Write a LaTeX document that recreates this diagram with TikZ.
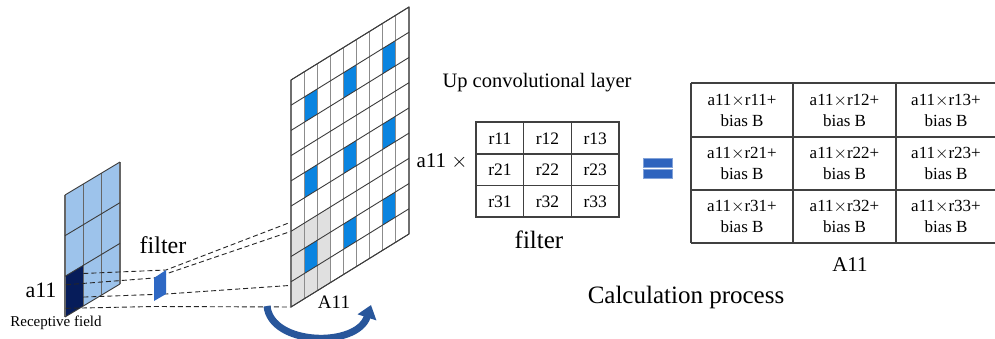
\documentclass[tikz,border=0pt]{standalone}
\usepackage{fontspec}
\setmainfont{Liberation Serif}
\usetikzlibrary{arrows.meta}
\definecolor{lightcell}{RGB}{157,195,235}
\definecolor{darkcell}{RGB}{6,28,90}
\definecolor{filterblue}{RGB}{46,104,196}
\definecolor{upblue}{RGB}{10,132,224}
\definecolor{grayfill}{RGB}{224,224,224}
\definecolor{arcblue}{RGB}{40,86,155}
\definecolor{eqblue}{RGB}{47,100,190}
\definecolor{gridline}{RGB}{60,60,60}
\definecolor{vgrid}{RGB}{140,140,140}
\begin{document}
\begin{tikzpicture}[x=1pt,y=-1pt,
  hline/.style={draw=gridline,line width=0.9pt},
  vline/.style={draw=vgrid,line width=1.2pt},
  dashline/.style={draw=black!85,line width=0.9pt,dash pattern=on 5pt off 3pt},
  tabline/.style={draw=black!75,line width=1.4pt},
  label/.style={inner sep=0pt,anchor=base,text=black},
  cell/.style={inner sep=0pt,align=center,font=\fontsize{17}{21}\selectfont},
  rcell/.style={inner sep=0pt,font=\fontsize{17.5}{20}\selectfont}]
\useasboundingbox (0,0) rectangle (995,338);
\fill[white] (0,0) rectangle (995,338);

% ---------- left small grid (receptive field)
\begin{scope}[shift={(65,195)},x={(18.33pt,11pt)},y={(0pt,-40.67pt)}]
  \fill[lightcell] (0,0)--(3,0)--(3,3)--(0,3)--cycle;
  \fill[darkcell] (0,2)--(1,2)--(1,3)--(0,3)--cycle;
  \foreach \i in {0,...,3} \draw[vline,draw=black!60] (\i,0)--(\i,3);
  \foreach \j in {0,...,3} \draw[hline] (0,\j)--(3,\j);
  \coordinate (r1) at (1,2.2);
  \coordinate (r2) at (0.05,2.22);
  \coordinate (r3) at (1,2.78);
  \coordinate (r4) at (0.05,2.8);
\end{scope}

% ---------- filter corners
\coordinate (fTL) at (154,278);
\coordinate (fTR) at (166,270);
\coordinate (fBR) at (166,294);
\coordinate (fBL) at (154,301);
\coordinate (fBLd) at (154,306.5);

% ---------- big grid corner coordinates
\begin{scope}[shift={(291,80)},x={(13.11pt,8.11pt)},y={(0pt,-25.22pt)}]
  \coordinate (gTL) at (0,6);
  \coordinate (gTR) at (3,6);
  \coordinate (gBL) at (0,9);
  \coordinate (gBR) at (3,9);
\end{scope}

% ---------- dashed projection lines
\draw[dashline] (r1) -- (fTR) -- (gTR);
\draw[dashline] (r2) -- (fTL) -- (gTL);
\draw[dashline] (r3) -- (fBR) -- (gBR);
\draw[dashline] (r4) -- (fBLd) -- (gBL);

% ---------- filter patch
\fill[filterblue] (fTL)--(fTR)--(fBR)--(fBL)--cycle;

% ---------- big output grid
\begin{scope}[shift={(291,80)},x={(13.11pt,8.11pt)},y={(0pt,-25.22pt)}]
  \fill[white] (0,0)--(9,0)--(9,9)--(0,9)--cycle;
  \fill[grayfill] (0,6)--(3,6)--(3,9)--(0,9)--cycle;
  \foreach \i in {1,4,7}
    \foreach \j in {1,4,7}
      \fill[upblue] (\i,\j)--(\i+1,\j)--(\i+1,\j+1)--(\i,\j+1)--cycle;
  \foreach \i in {0,...,9} \draw[vline] (\i,0)--(\i,9);
  \foreach \j in {0,...,9} \draw[hline] (0,\j)--(9,\j);
  \draw[hline] (0,0)--(9,0)--(9,9)--(0,9)--cycle;
\end{scope}

% ---------- curved arrow
\coordinate (arcS) at (267,306);
\coordinate (arcE) at (371,305);
\draw[arcblue,line width=7pt,-{Triangle[length=13pt,width=19pt]}]
  (arcS) .. controls (271,346) and (357,348) .. (arcE);

% ---------- labels on the left
\node[label,font=\fontsize{22}{24}\selectfont] (la11) at (41,297) {a11};
\node[label,font=\fontsize{15}{17}\selectfont] (lrf) at (56,326) {Receptive field};
\node[label,font=\fontsize{24}{26}\selectfont] (lfilter) at (163,253) {filter};
\node[label,font=\fontsize{19}{21}\selectfont] (gA11) at (334,308) {A11};

% ---------- middle: filter table
\node[label,font=\fontsize{20.5}{22}\selectfont] (upconv) at (537,87) {Up convolutional layer};
\node[label,font=\fontsize{21}{23}\selectfont] (ax) at (442,167) {a11 $\times$};
\draw[tabline,line width=1.3pt] (476,122) rectangle (619,217);
\draw[tabline,line width=1.3pt] (476,154) -- (619,154);
\draw[tabline,line width=1.3pt] (476,185.5) -- (619,185.5);
\draw[tabline,line width=1.3pt] (523.5,122) -- (523.5,217);
\draw[tabline,line width=1.3pt] (571.5,122) -- (571.5,217);
\node[rcell] (r11) at (500,138.5) {r11};
\node[rcell] (r12) at (547.5,138.5) {r12};
\node[rcell] (r13) at (595.3,138.5) {r13};
\node[rcell] (r21) at (500,170) {r21};
\node[rcell] (r22) at (547.5,170) {r22};
\node[rcell] (r23) at (595.3,170) {r23};
\node[rcell] (r31) at (500,201.5) {r31};
\node[rcell] (r32) at (547.5,201.5) {r32};
\node[rcell] (r33) at (595.3,201.5) {r33};
\node[label,font=\fontsize{25}{27}\selectfont] (mfilter) at (539,248) {filter};

% ---------- equals sign
\fill[eqblue,draw=eqblue!60,line width=0.6pt] (643,158) rectangle (672,167);
\fill[eqblue,draw=eqblue!60,line width=0.6pt] (643,169.5) rectangle (672,178.5);

% ---------- right: result table
\foreach \y in {83,137,190,243} \draw[tabline] (691,\y) -- (996,\y);
\foreach \x in {691,793,896} \draw[tabline] (\x,83) -- (\x,243);
\node[cell] (c11) at (742,110) {a11$\times$r11+\\bias B};
\node[cell] (c12) at (844.5,110) {a11$\times$r12+\\bias B};
\node[cell] (c13) at (946,110) {a11$\times$r13+\\bias B};
\node[cell] (c21) at (742,163.5) {a11$\times$r21+\\bias B};
\node[cell] (c22) at (844.5,163.5) {a11$\times$r22+\\bias B};
\node[cell] (c23) at (946,163.5) {a11$\times$r23+\\bias B};
\node[cell] (c31) at (742,216.5) {a11$\times$r31+\\bias B};
\node[cell] (c32) at (844.5,216.5) {a11$\times$r32+\\bias B};
\node[cell] (c33) at (946,216.5) {a11$\times$r33+\\bias B};
\node[label,font=\fontsize{21}{23}\selectfont] (tA11) at (850,271) {A11};
\node[label,font=\fontsize{25}{27}\selectfont] (calc) at (686,303) {Calculation process};
\end{tikzpicture}
\end{document}
